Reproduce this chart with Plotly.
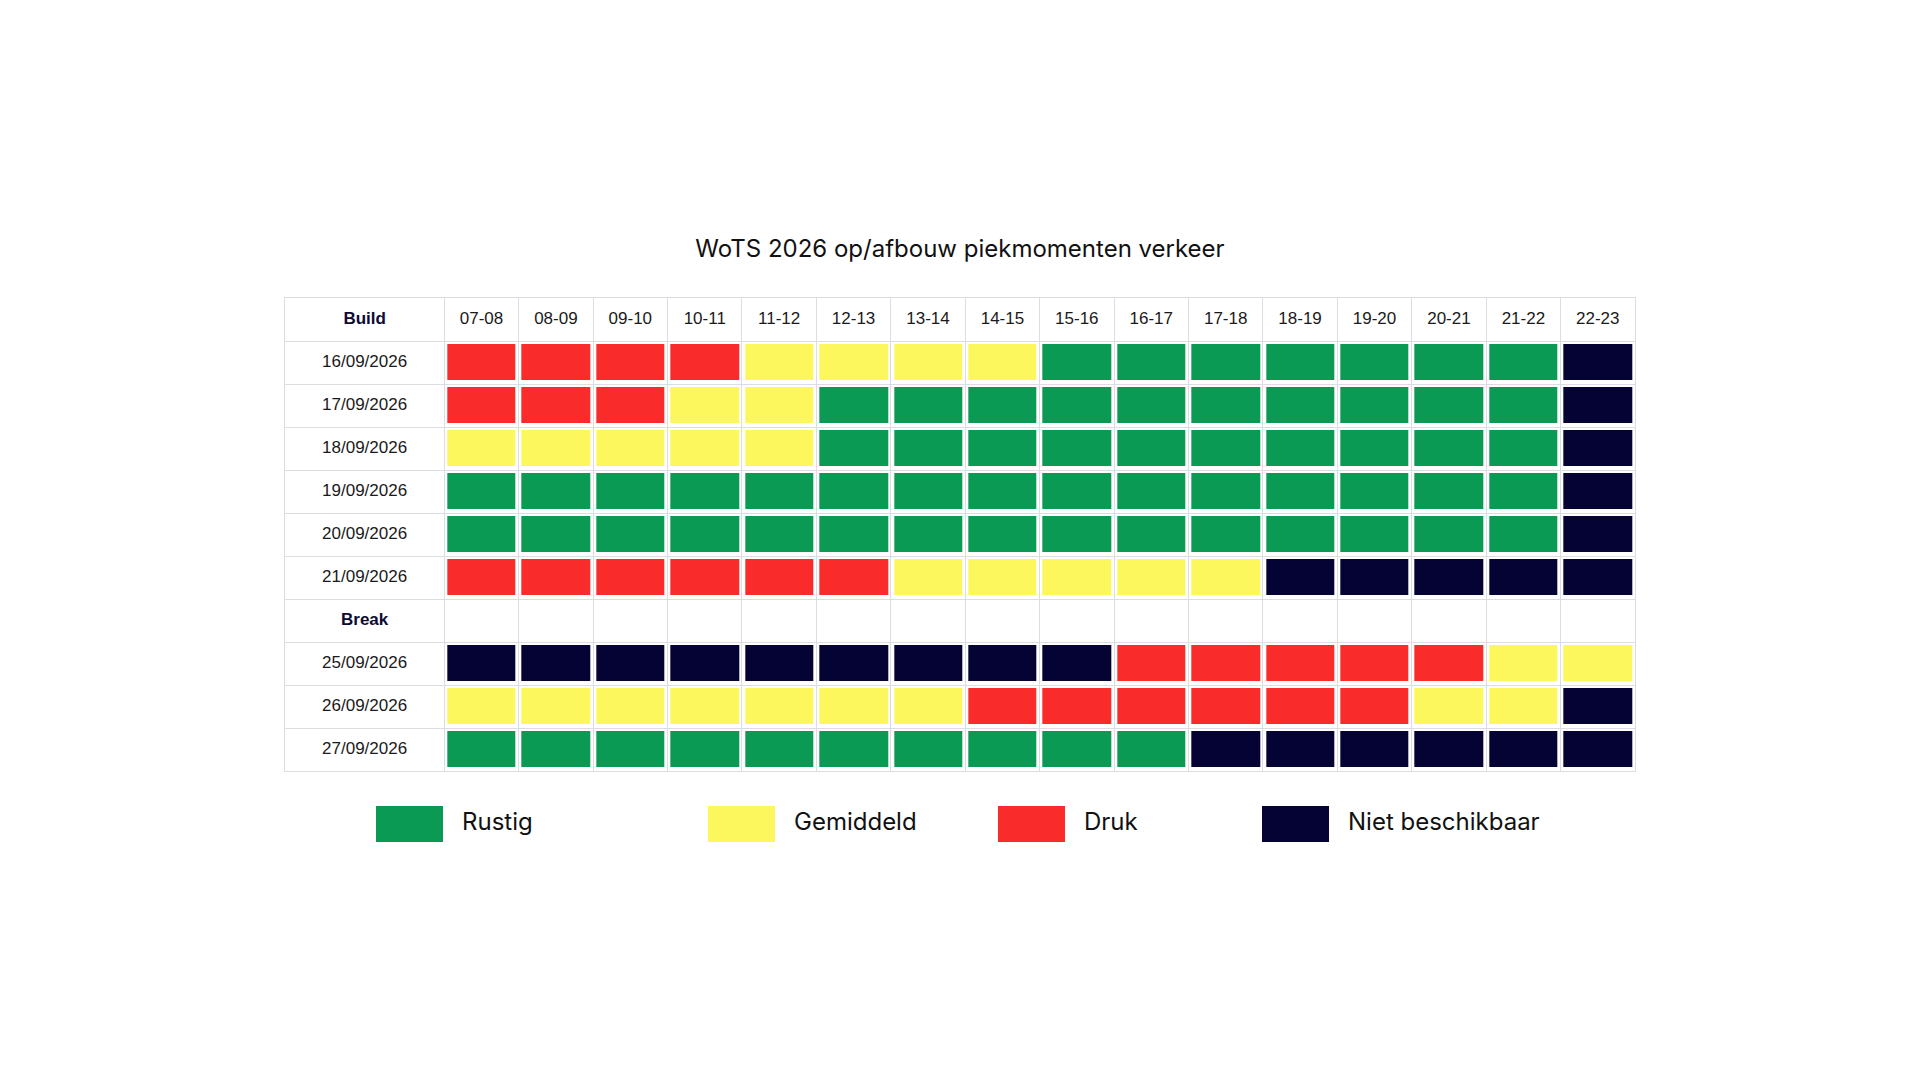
import plotly.graph_objects as go

# time slots (columns) and day rows
hours = ["07-08", "08-09", "09-10", "10-11", "11-12", "12-13", "13-14", "14-15",
         "15-16", "16-17", "17-18", "18-19", "19-20", "20-21", "21-22", "22-23"]
row_labels = ["Build", "16/09/2026", "17/09/2026", "18/09/2026", "19/09/2026", "20/09/2026",
              "21/09/2026", "Break", "25/09/2026", "26/09/2026", "27/09/2026"]
bold_rows = ["Build", "Break"]

# 0 = Rustig, 1 = Gemiddeld, 2 = Druk, 3 = Niet beschikbaar, None = geen data
status = [
    [2, 2, 2, 2, 1, 1, 1, 1, 0, 0, 0, 0, 0, 0, 0, 3],
    [2, 2, 2, 1, 1, 0, 0, 0, 0, 0, 0, 0, 0, 0, 0, 3],
    [1, 1, 1, 1, 1, 0, 0, 0, 0, 0, 0, 0, 0, 0, 0, 3],
    [0, 0, 0, 0, 0, 0, 0, 0, 0, 0, 0, 0, 0, 0, 0, 3],
    [0, 0, 0, 0, 0, 0, 0, 0, 0, 0, 0, 0, 0, 0, 0, 3],
    [2, 2, 2, 2, 2, 2, 1, 1, 1, 1, 1, 3, 3, 3, 3, 3],
    [None] * 16,
    [3, 3, 3, 3, 3, 3, 3, 3, 3, 2, 2, 2, 2, 2, 1, 1],
    [1, 1, 1, 1, 1, 1, 1, 2, 2, 2, 2, 2, 2, 1, 1, 3],
    [0, 0, 0, 0, 0, 0, 0, 0, 0, 0, 3, 3, 3, 3, 3, 3],
]
legend_names = ["Rustig", "Gemiddeld", "Druk", "Niet beschikbaar"]
colors = ["#0b9a53", "#fdf75e", "#f92b2b", "#050333"]

W, H = 1920, 1080
OFF = 8               # page body margin, compensated in the pixel positions
LAB_W = 2.14          # label column width, in hour-column units
GRID = "#dcdce3"

# discrete colour scale for the 4 statuses
cscale = []
for i, c in enumerate(colors):
    cscale += [[i / 4, c], [(i + 1) / 4, c]]

fig = go.Figure()

fig.add_trace(go.Heatmap(
    x=[i + 0.5 for i in range(len(hours))],
    y=[r + 0.5 for r in range(1, len(row_labels))],
    z=status,
    colorscale=cscale, zmin=-0.5, zmax=3.5, showscale=False,
    xgap=6, ygap=7, hoverinfo="skip",
))

# header row text
fig.add_trace(go.Scatter(
    x=[i + 0.5 for i in range(len(hours))], y=[0.5] * len(hours),
    mode="text", text=hours,
    textfont=dict(family="Liberation Sans, Arial", size=17, color="#1a1a1a"),
    hoverinfo="skip", showlegend=False,
))

# row labels in first column
fig.add_trace(go.Scatter(
    x=[-LAB_W / 2] * len(row_labels), y=[r + 0.5 for r in range(len(row_labels))],
    mode="text",
    text=["<b>%s</b>" % t if t in bold_rows else t for t in row_labels],
    textfont=dict(family="Liberation Sans, Arial", size=17,
                  color=["#0d0b33" if t in bold_rows else "#1a1a1a" for t in row_labels]),
    hoverinfo="skip", showlegend=False,
))

# custom legend with large swatches
legend_left = [376, 708, 998, 1262]
sw_w = 67
for name, c, lx in zip(legend_names, colors, legend_left):
    fig.add_trace(go.Bar(
        x=[sw_w], base=[lx - OFF], y=[0.5], width=[1], orientation="h",
        marker=dict(color=c, line=dict(width=0)),
        xaxis="x2", yaxis="y2", hoverinfo="skip", showlegend=False,
    ))
fig.add_trace(go.Scatter(
    x=[lx - OFF + sw_w + 19 for lx in legend_left], y=[0.5] * 4,
    mode="text", text=legend_names, textposition="middle right",
    textfont=dict(family="Inter, Liberation Sans", size=24, color="#111111"),
    xaxis="x2", yaxis="y2", hoverinfo="skip", showlegend=False,
))

axis_common = dict(showgrid=True, gridcolor=GRID, gridwidth=1, showticklabels=False,
                   ticks="", zeroline=False, showline=True, mirror=True,
                   linecolor=GRID, linewidth=1, fixedrange=True)

fig.update_layout(
    width=W, height=H,
    margin=dict(l=0, r=0, t=0, b=0),
    paper_bgcolor="white", plot_bgcolor="white",
    barmode="overlay",
    showlegend=False,
    title=dict(text="WoTS 2026 op/afbouw piekmomenten verkeer",
               x=(960 - OFF) / W, xanchor="center", y=1 - (251 - OFF - 2) / H, yanchor="middle",
               font=dict(family="Inter, Liberation Sans", size=24, color="#111111")),
    xaxis=dict(domain=[(285 - OFF) / W, (1635 - OFF) / W], range=[-LAB_W, len(hours)],
               tickvals=[-LAB_W] + list(range(len(hours) + 1)), **axis_common),
    yaxis=dict(domain=[1 - (771 - OFF) / H, 1 - (298 - OFF) / H], range=[len(row_labels), 0],
               tickvals=list(range(len(row_labels) + 1)), **axis_common),
    xaxis2=dict(domain=[0, 1], range=[0, W], visible=False, anchor="y2", fixedrange=True),
    yaxis2=dict(domain=[1 - (844 - OFF - 2) / H, 1 - (808 - OFF - 2) / H], range=[0, 1],
                visible=False, anchor="x2", fixedrange=True),
)

fig.write_html("out.html")
